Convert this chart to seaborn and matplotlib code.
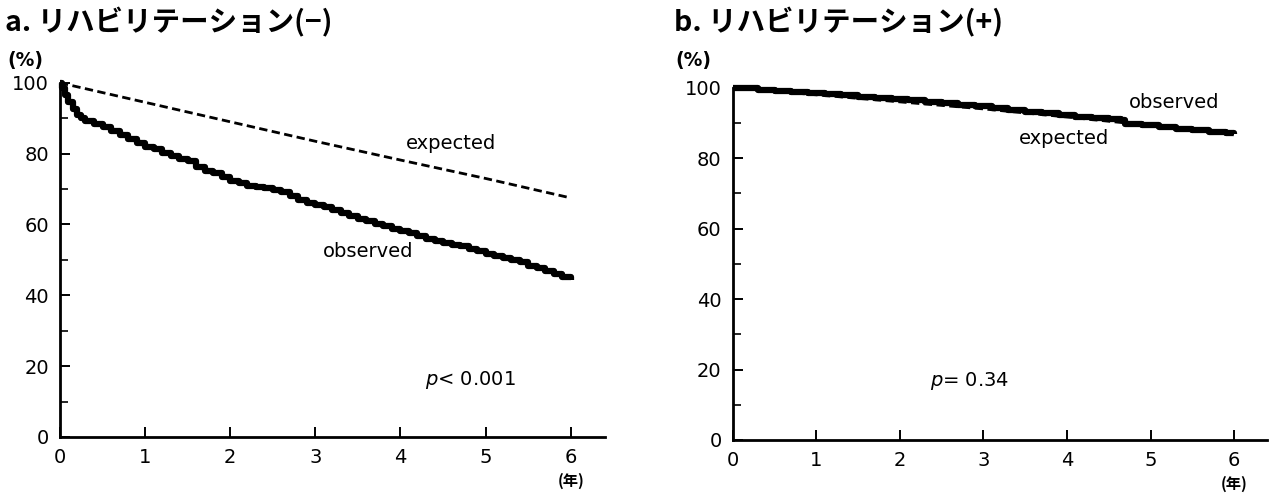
import numpy as np
import pandas as pd
import matplotlib
matplotlib.use("Agg")
import matplotlib.pyplot as plt
from matplotlib.ticker import MultipleLocator
import seaborn as sns

sns.set_theme(style="ticks")
plt.rcParams['font.family'] = ['DejaVu Sans', 'Noto Sans CJK JP']
plt.rcParams['text.color'] = 'black'

# a: リハビリテーション(−)
a_obs_t = [0, 0.03, 0.06, 0.1, 0.15, 0.2, 0.25, 0.3, 0.4, 0.5, 0.6, 0.7, 0.8, 0.9,
           1.0, 1.1, 1.2, 1.3, 1.4, 1.5, 1.6, 1.7, 1.8, 1.9, 2.0, 2.1, 2.2, 2.3, 2.4,
           2.5, 2.6, 2.7, 2.8, 2.9, 3.0, 3.1, 3.2, 3.3, 3.4, 3.5, 3.6, 3.7, 3.8, 3.9,
           4.0, 4.1, 4.2, 4.3, 4.4, 4.5, 4.6, 4.7, 4.8, 4.9, 5.0, 5.1, 5.2, 5.3, 5.4,
           5.5, 5.6, 5.7, 5.8, 5.9, 6.0]
a_obs_v = [100, 98.5, 96.5, 94.5, 92.5, 91, 90, 89.3, 88.5, 87.5, 86.3, 85.2, 84, 83,
           82, 81.2, 80.3, 79.4, 78.5, 77.8, 76.2, 75.2, 74.5, 73.5, 72.3, 71.6, 71, 70.6, 70.2,
           69.8, 69.3, 68, 67, 66.2, 65.4, 64.8, 64, 63.2, 62.3, 61.6, 61, 60.2, 59.5, 58.8,
           58.3, 57.6, 56.7, 56, 55.3, 54.8, 54.3, 53.8, 53.2, 52.5, 51.8, 51.2, 50.6, 50, 49.3,
           48.4, 47.6, 46.8, 46, 45.2, 44.2]
a_exp_t = [0, 1, 2, 3, 4, 5, 6]
a_exp_v = [100, 94.5, 89, 83.5, 78.2, 73, 67.5]

# b: リハビリテーション(+)
b_obs_t = [0, 0.1, 0.3, 0.5, 0.7, 0.9, 1.1, 1.3, 1.5, 1.7, 1.9, 2.1, 2.3, 2.5, 2.7,
           2.9, 3.1, 3.3, 3.5, 3.7, 3.9, 4.1, 4.3, 4.5, 4.65, 4.7, 4.9, 5.1, 5.3, 5.5,
           5.7, 5.9, 6.0]
b_obs_v = [100, 99.8, 99.5, 99.2, 98.9, 98.5, 98.2, 97.9, 97.5, 97.2, 96.8, 96.4, 96.0,
           95.6, 95.2, 94.7, 94.2, 93.7, 93.2, 92.7, 92.3, 91.8, 91.3, 91.0, 90.9, 89.8,
           89.3, 88.9, 88.4, 87.9, 87.5, 87.1, 86.8]
b_exp_t = [0, 1, 2, 3, 4, 5, 6]
b_exp_v = [100, 98.0, 96.0, 94.0, 91.7, 89.3, 86.8]

x_ticks = [0, 1, 2, 3, 4, 5, 6]
y_ticks = [0, 20, 40, 60, 80, 100]

fig = plt.figure(figsize=(12.7, 4.96), dpi=100)
ax_a = fig.add_axes([0.0472, 0.119, 0.429, 0.714])
ax_b = fig.add_axes([0.577, 0.113, 0.421, 0.710])

tick_font = dict(fontsize=14)


def draw(ax, obs_t, obs_v, exp_t, exp_v, title, ptext, obs_xy, exp_xy, p_xy, title_x, pct_x):
    sns.lineplot(x=exp_t, y=exp_v, ax=ax, color='black', linewidth=2.0,
                 linestyle=(0, (3, 1.6)), estimator=None)
    sns.lineplot(x=obs_t, y=obs_v, ax=ax, color='black', linewidth=4.5,
                 drawstyle='steps-post', estimator=None)
    ax.set_xlim(0, 6.4)
    ax.set_ylim(0, 100)
    ax.set_xticks(x_ticks)
    ax.set_yticks(y_ticks)
    ax.yaxis.set_minor_locator(MultipleLocator(10))
    ax.set_xticklabels([str(t) for t in x_ticks], **tick_font)
    ax.set_yticklabels([str(t) for t in y_ticks], **tick_font)
    ax.tick_params(axis='x', which='major', direction='in', length=7, width=1.4,
                   color='black', labelcolor='black', pad=8)
    ax.tick_params(axis='y', which='major', direction='in', length=7, width=1.4,
                   color='black', labelcolor='black', pad=8)
    ax.tick_params(axis='y', which='minor', direction='in', length=6, width=1.4)
    for s in ['top', 'right']:
        ax.spines[s].set_visible(False)
    for s in ['left', 'bottom']:
        ax.spines[s].set_linewidth(2)
        ax.spines[s].set_color('black')
    for ln in ax.lines:
        ln.set_clip_on(False)
        ln.set_solid_capstyle('butt')
    fig.text(pct_x, 0.878, '(%)', ha='left', va='center', fontsize=13.5,
             fontweight='bold')
    ax.text(6, -12.5, '(年)', ha='center', va='center', fontsize=11,
            fontweight='bold', family=['Noto Sans CJK JP'])
    fig.text(title_x, 0.985, title, ha='left', va='top', fontsize=20.5,
             fontweight='bold', family=['Noto Sans CJK JP'])
    ax.text(obs_xy[0], obs_xy[1], 'observed', ha='center', va='center', fontsize=14)
    ax.text(exp_xy[0], exp_xy[1], 'expected', ha='center', va='center', fontsize=14)
    ax.text(p_xy[0], p_xy[1], ptext, ha='center', va='center', fontsize=14)


draw(ax_a, a_obs_t, a_obs_v, a_exp_t, a_exp_v, 'a. リハビリテーション(−)',
     r'$\it{p}$< 0.001', (3.62, 52.3), (4.59, 83), (4.82, 16), 0.004, 0.006)
draw(ax_b, b_obs_t, b_obs_v, b_exp_t, b_exp_v, 'b. リハビリテーション(+)',
     r'$\it{p}$= 0.34', (5.28, 95.7), (3.97, 85.5), (2.83, 16.8), 0.531, 0.532)

fig.savefig('out.png', dpi=100)
